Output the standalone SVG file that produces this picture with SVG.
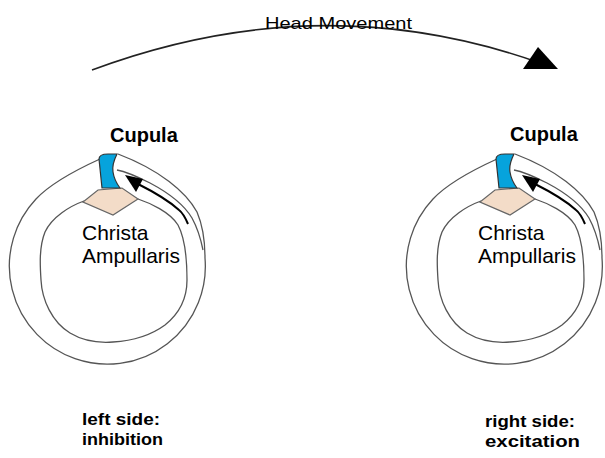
<svg xmlns="http://www.w3.org/2000/svg" xmlns:xlink="http://www.w3.org/1999/xlink" width="605" height="458" viewBox="0 0 605 458">
  <style>
    .wall { fill: none; stroke: #555; stroke-width: 1.3; }
    .cupula { fill: #06a3dc; stroke: #333; stroke-width: 1.2; }
    .crista { fill: #f3dcc8; stroke: #666; stroke-width: 1.2; }
    .flow { fill: none; stroke: #000; stroke-width: 2; }
    .head { fill: #000; }
    .lbl { font-family: "Liberation Sans", Arial, sans-serif; fill: #000; }
    .bold { font-weight: bold; }
  </style>
  <defs>
    <!-- one ampulla of a semicircular canal: canal walls, cupula, crista, endolymph flow arrow -->
    <g id="ampulla">
      <!-- outer wall of the canal, bulging into the ampulla on the right -->
      <path class="wall" d="M100,159 C78,169 52,182 36,199 A98,98 0 1 0 205,258 C205,242 203,226 197,212 C186,192 160,170 118,154"/>
      <!-- membrane lining the ampulla roof -->
      <path class="wall" d="M117,170 C128,172 140,178 150,183 C167,192 183,203 192,218 C198,229 201,240 203,250"/>
      <!-- inner wall of the canal -->
      <path class="wall" d="M84,201 C70,206 52,217 45,232 C39,247 40,265 41,280 C42,300 52,322 70,333 C85,342 100,343 113,342 C130,341 150,336 165,325 C180,313 187,297 187,280 C187,262 186,240 178,225 C170,212 150,203 138,199"/>
      <!-- crista ampullaris -->
      <path class="crista" d="M83,202 L98,190 L122,188 L138,199 L113,215 Z"/>
      <!-- cupula -->
      <path class="cupula" d="M99,159 C99,155 104,154 108,154 L117,154 C114,160 112,166 113,172 C114,179 117,184 120,188 L102,188 C101,178 100,168 99,159 Z"/>
      <!-- endolymph flow -->
      <path class="flow" d="M188,224 C185,217 183,213 179,210 C168,200 154,192 138,184"/>
      <polygon class="head" points="125,175 143,179 136,192"/>
    </g>
  </defs>

  <g id="connectors">
    <!-- head rotation arrow -->
    <path d="M92,70 Q320,-15 540,63" fill="none" stroke="#222" stroke-width="1.6"/>
    <polygon class="head" points="523,69 558,69 538,47"/>
  </g>

  <g id="head-movement">
    <text class="lbl" x="265" y="29" font-size="17" textLength="147" lengthAdjust="spacingAndGlyphs">Head Movement</text>
  </g>

  <g id="left-ampulla">
    <use xlink:href="#ampulla"/>
    <text class="lbl bold" x="110" y="142" font-size="20">Cupula</text>
    <text class="lbl" x="82" y="240" font-size="21">Christa</text>
    <text class="lbl" x="82" y="263" font-size="21">Ampullaris</text>
  </g>

  <g id="right-ampulla">
    <use xlink:href="#ampulla" transform="translate(397,0)"/>
    <text class="lbl bold" x="510" y="141" font-size="20">Cupula</text>
    <text class="lbl" x="478" y="240" font-size="21">Christa</text>
    <text class="lbl" x="478" y="263" font-size="21">Ampullaris</text>
  </g>

  <g id="left-caption">
    <text class="lbl bold" x="82" y="425" font-size="17" textLength="78" lengthAdjust="spacingAndGlyphs">left side:</text>
    <text class="lbl bold" x="82" y="445" font-size="17" textLength="81" lengthAdjust="spacingAndGlyphs">inhibition</text>
  </g>

  <g id="right-caption">
    <text class="lbl bold" x="485" y="427" font-size="17" textLength="90" lengthAdjust="spacingAndGlyphs">right side:</text>
    <text class="lbl bold" x="485" y="447" font-size="17" textLength="95" lengthAdjust="spacingAndGlyphs">excitation</text>
  </g>
</svg>
